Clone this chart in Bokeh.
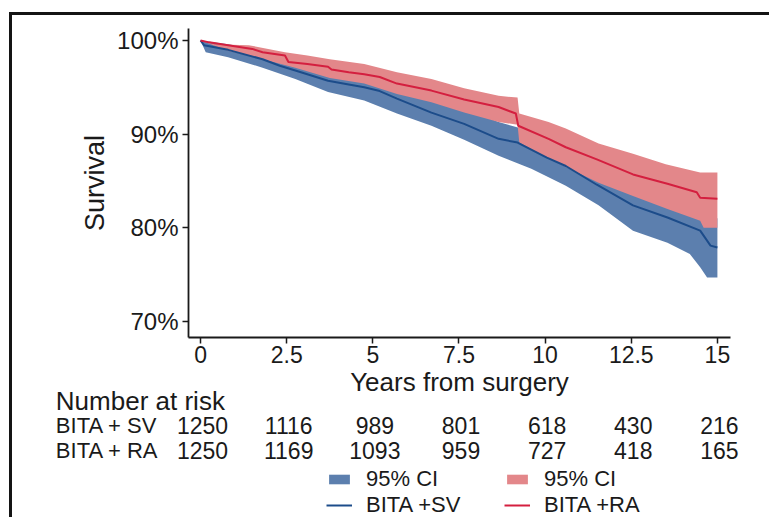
from bokeh.plotting import figure
from bokeh.layouts import column
from bokeh.models import (Range1d, FixedTicker, PrintfTickFormatter, ColumnDataSource,
                          Legend, LegendItem)
from bokeh.core.properties import value
from bokeh.embed import file_html
from bokeh.resources import INLINE

# ---------------- data ----------------
# BITA + SV : Kaplan-Meier estimate and 95% CI
sv_t = [0, 0.1, 0.8, 1.8, 2.3, 2.75, 3.7, 4.3, 4.75, 5.2, 5.7, 6.7, 7.65, 8.65, 9.2,
        10.05, 10.6, 11.5, 12.55, 13.55, 14.5, 14.8, 15]
sv_s = [100, 99.5, 99.0, 98.0, 97.3, 96.8, 95.7, 95.3, 95.0, 94.6, 93.8, 92.3, 91.1, 89.5, 89.1,
        87.5, 86.6, 84.6, 82.4, 81.1, 79.7, 78.1, 77.9]
sv_lo_t = [0, 0.15, 0.8, 1.8, 2.75, 3.7, 4.75, 5.7, 6.7, 7.65, 8.65, 9.6, 10.6, 11.55,
           12.55, 13.55, 14.2, 14.5, 14.7, 15]
sv_lo_s = [100, 98.75, 98.2, 97.1, 95.9, 94.5, 93.6, 92.2, 90.9, 89.4, 87.7, 86.3, 84.5, 82.4,
           79.7, 78.4, 77.2, 75.8, 74.7, 74.7]
sv_hi_t = [0, 0.8, 1.8, 2.75, 3.7, 4.75, 5.7, 6.7, 7.65, 8.65, 9.6, 10.6, 11.55, 12.55,
           13.55, 14.5, 15]
sv_hi_s = [100, 99.6, 98.9, 97.7, 96.9, 96.4, 95.4, 93.7, 92.8, 91.3, 90.3, 88.7, 86.8, 85.1,
           83.8, 83.0, 81.0]

# BITA + RA : Kaplan-Meier estimate and 95% CI
ra_t = [0, 0.25, 0.8, 1.5, 1.8, 2.45, 2.55, 3.1, 3.7, 3.8, 4.3, 4.75, 5.2, 5.7, 6.7, 7.65,
        8.65, 9.15, 9.22, 10.1, 10.6, 11.5, 12.55, 13.55, 14.4, 14.5, 15]
ra_s = [100, 99.8, 99.5, 99.1, 98.75, 98.4, 97.7, 97.5, 97.2, 96.9, 96.6, 96.4, 96.1, 95.4,
        94.65, 93.7, 92.9, 92.2, 90.9, 89.5, 88.6, 87.3, 85.7, 84.7, 83.8, 83.2, 83.1]
ra_hi_t = [0, 0.4, 1.4, 2.45, 3.1, 3.75, 4.75, 5.7, 6.7, 7.65, 8.65, 9.2, 9.25, 10.1, 10.6,
           11.55, 12.55, 13.5, 14.5, 15]
ra_hi_s = [100, 99.6, 99.5, 98.75, 98.4, 98.0, 97.5, 96.6, 95.9, 94.9, 94.1, 93.9, 92.2, 91.3,
           90.6, 89.0, 87.9, 86.8, 85.9, 85.9]
ra_lo_t = [0, 0.8, 1.8, 2.75, 3.75, 4.75, 5.7, 6.7, 7.65, 8.65, 9.2, 9.25, 9.9, 10.6, 11.55,
           12.55, 13.55, 14.5, 14.6, 15]
ra_lo_s = [100, 98.9, 98.0, 97.1, 96.0, 95.4, 94.3, 93.4, 92.3, 91.3, 91.0, 89.1, 87.8, 86.5,
           84.8, 83.4, 82.0, 80.75, 80.0, 80.0]

# number at risk
risk_times = [0, 2.5, 5, 7.5, 10, 12.5, 15]
risk_groups = ["BITA + SV", "BITA + RA"]
sv_risk = [1250, 1116, 989, 801, 618, 430, 216]
ra_risk = [1250, 1169, 1093, 959, 727, 418, 165]

x_ticks = [0, 2.5, 5, 7.5, 10, 12.5, 15]
x_tick_labels = ["0", "2.5", "5", "7.5", "10", "12.5", "15"]
y_ticks = [70, 80, 90, 100]

# ---------------- style / layout ----------------
FONT = "Liberation Sans"
INK = "#1a1a1a"
BLUE_BAND = "#5c7fae"
RED_BAND = "#e3878a"
BLUE_LINE = "#1c4c8a"
RED_LINE = "#d41f3f"

W = 757
H1 = 395
H2 = 132
OVERLAP = 25
ROW_PX = 25
FL, FR, FT, FB = 176, 39, 13, 73      # main frame borders
X0, X1 = -0.35, 15.38
Y0, Y1 = 68.29, 101.28

p = figure(width=W, height=H1, x_range=Range1d(X0, X1), y_range=Range1d(Y0, Y1),
           output_backend="svg", toolbar_location=None,
           min_border_left=FL, min_border_right=FR, min_border_top=FT, min_border_bottom=FB)
p.frame_align = False
p.xgrid.visible = False
p.ygrid.visible = False
p.outline_line_color = None


def band(upper_t, upper_s, lower_t, lower_s):
    return upper_t + lower_t[::-1], upper_s + lower_s[::-1]


bx, by = band(sv_hi_t, sv_hi_s, sv_lo_t, sv_lo_s)
p.patch(bx, by, fill_color=BLUE_BAND, line_color=None)
rx, ry = band(ra_hi_t, ra_hi_s, ra_lo_t, ra_lo_s)
p.patch(rx, ry, fill_color=RED_BAND, line_color=None)
p.line(sv_t, sv_s, line_color=BLUE_LINE, line_width=2)
p.line(ra_t, ra_s, line_color=RED_LINE, line_width=2)

for ax in (p.xaxis[0], p.yaxis[0]):
    ax.axis_line_color = INK
    ax.axis_line_width = 1.8
    ax.major_tick_line_color = INK
    ax.major_tick_line_width = 1.5
    ax.major_tick_out = 6
    ax.major_tick_in = 0
    ax.minor_tick_line_color = None
    ax.major_label_text_font = FONT
    ax.major_label_text_color = INK
    ax.axis_label_text_font = FONT
    ax.axis_label_text_font_style = "normal"
    ax.axis_label_text_color = INK

p.xaxis.ticker = FixedTicker(ticks=x_ticks)
p.xaxis.major_label_overrides = dict(zip(x_ticks, x_tick_labels))
p.xaxis.axis_label = "Years from surgery"
p.xaxis.major_label_text_font_size = "23px"
p.xaxis.axis_label_text_font_size = "26px"
p.xaxis.major_label_standoff = 2
p.xaxis.axis_label_standoff = 1

p.yaxis.ticker = FixedTicker(ticks=y_ticks)
p.yaxis.formatter = PrintfTickFormatter(format="%d%%")
p.yaxis.axis_label = "Survival"
p.yaxis.major_label_text_font_size = "24px"
p.yaxis.axis_label_text_font_size = "27px"
p.yaxis.major_label_standoff = 4
p.yaxis.axis_label_standoff = 4

# ---------------- number-at-risk table + legend (second canvas) ----------------
px_per_year = (W - FL - FR) / (X1 - X0)
x2_start = X0 - FL / px_per_year
x2_end = X1 + FR / px_per_year
# rows: 0 header, 1 SV, 2 RA (25px per row); legend sits below
row_top = -0.6
row_bottom = row_top + H2 / ROW_PX
p2 = figure(width=W, height=H2, x_range=Range1d(x2_start, x2_end),
            y_range=Range1d(row_bottom, row_top),
            output_backend="svg", toolbar_location=None, x_axis_location=None,
            y_axis_location=None, min_border=0)
p2.frame_align = False
p2.min_border_left = p2.min_border_right = p2.min_border_top = p2.min_border_bottom = 0
p2.grid.visible = False
p2.outline_line_color = None
p2.background_fill_alpha = 0
p2.border_fill_alpha = 0
p2.margin = (-OVERLAP, 0, 0, 0)

label_x = -4.2
base = dict(text_font=value(FONT), text_color=INK, text_baseline="middle")
p2.text(x=[label_x], y=[0], text=["Number at risk"], text_align="left",
        text_font_size="26px", **base)
p2.text(x=[label_x] * 2, y=[1, 2], text=risk_groups, text_align="left",
        text_font_size="22px", **base)
src = ColumnDataSource(dict(
    x=risk_times + risk_times,
    y=[1] * len(risk_times) + [2] * len(risk_times),
    text=[str(v) for v in sv_risk] + [str(v) for v in ra_risk],
))
p2.text(x="x", y="y", text="text", source=src, text_align="center", x_offset=2,
        text_font_size="23px", **base)

# legend renderers: the same series, drawn in this canvas outside its visible range
lb = p2.patch(bx, by, fill_color=BLUE_BAND, line_color=None)
lr = p2.patch(rx, ry, fill_color=RED_BAND, line_color=None)
ll_b = p2.line(sv_t, sv_s, line_color=BLUE_LINE, line_width=2)
ll_r = p2.line(ra_t, ra_s, line_color=RED_LINE, line_width=2)

common = dict(glyph_width=26, glyph_height=12, label_standoff=14, label_text_font=FONT,
              label_text_font_size="22px", label_text_color=INK, padding=0, margin=0,
              spacing=0, border_line_color=None, background_fill_alpha=0,
              label_height=24)
leg1 = Legend(items=[LegendItem(label="95% CI", renderers=[lb]),
                     LegendItem(label="BITA +SV", renderers=[ll_b])],
              location=(314, -1), **common)
leg2 = Legend(items=[LegendItem(label="95% CI", renderers=[lr]),
                     LegendItem(label="BITA +RA", renderers=[ll_r])],
              location=(492, -1), **common)
p2.add_layout(leg1)
p2.add_layout(leg2)

layout = column(p, p2, margin=(12, 0, 0, 9),
                styles={"border-top": "3px solid #141414", "border-left": "3px solid #141414"})

open("out.html", "w").write(file_html(layout, INLINE))
